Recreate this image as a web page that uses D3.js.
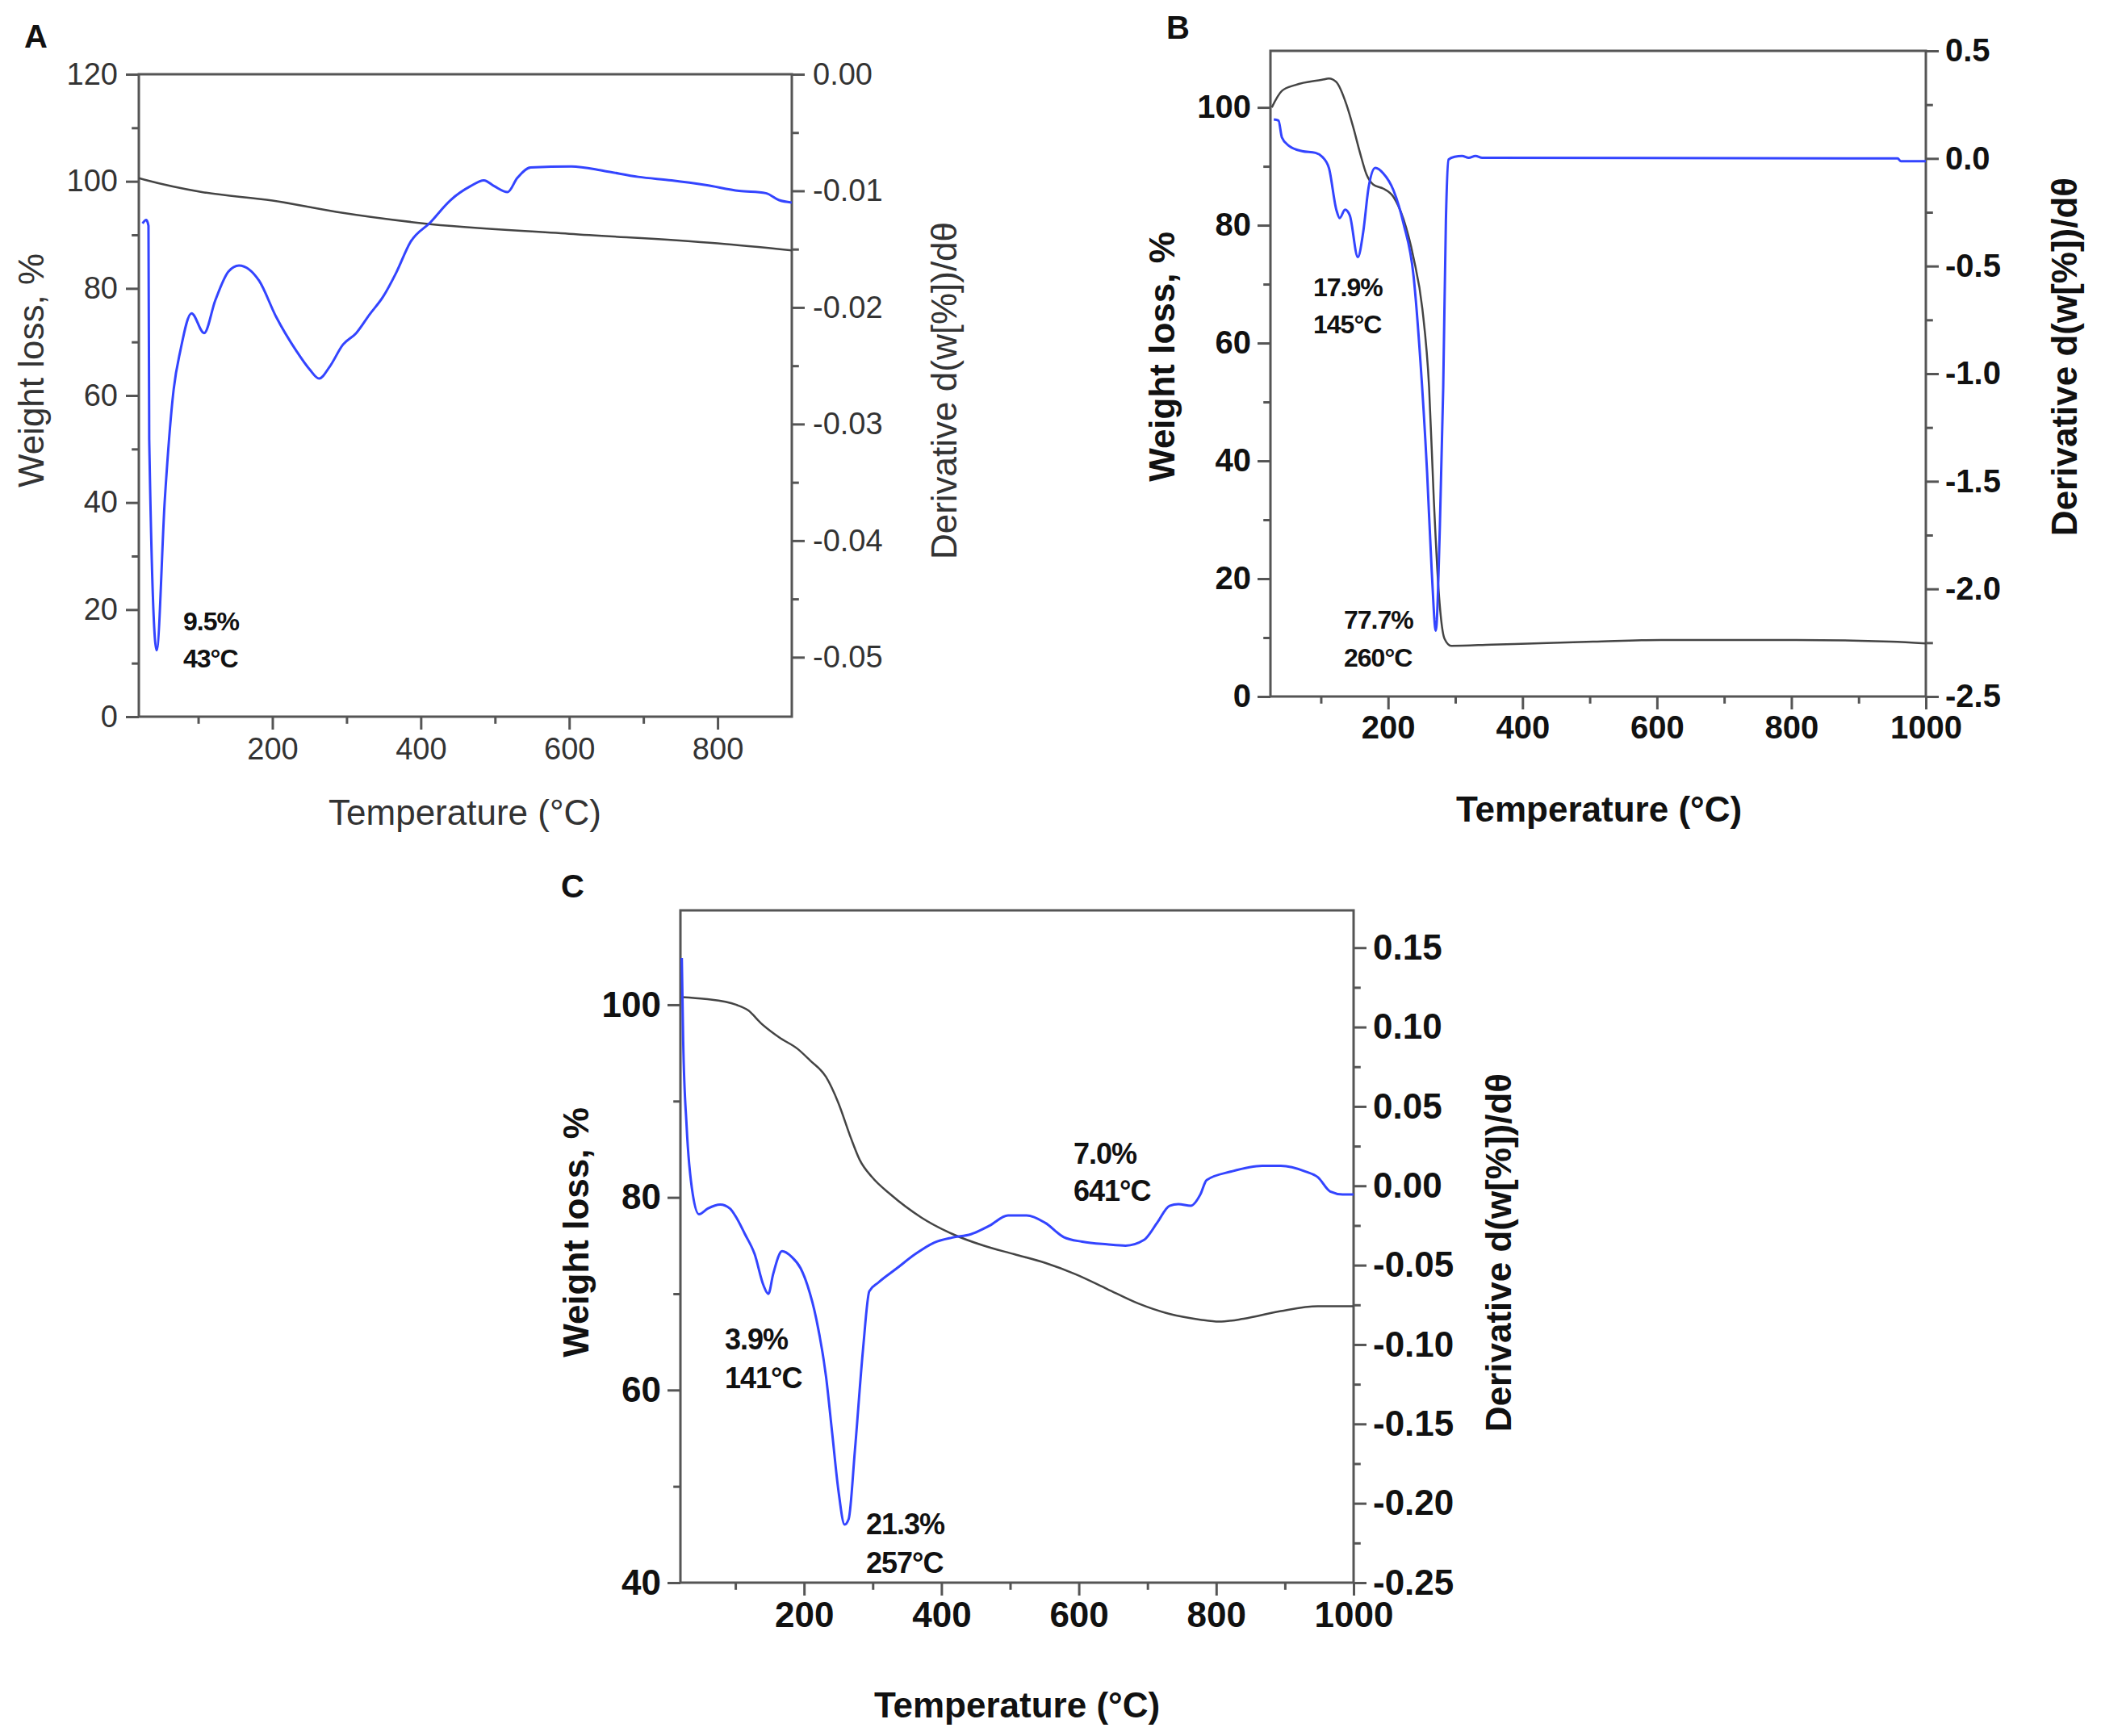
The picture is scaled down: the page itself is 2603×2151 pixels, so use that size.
<!DOCTYPE html>
<html>
<head>
<meta charset="utf-8">
<script src="https://d3js.org/d3.v7.min.js"></script>
<style>
  html, body { margin: 0; padding: 0; background: #fff; }
  svg { display: block; }
</style>
</head>
<body>
<div id="chart"></div>
<script>
// ---- Panel A data ----
const aWeightT = [20, 28, 105, 200, 286, 400, 600, 800, 900];
const aWeight = [100.6, 100.3, 98.0, 96.4, 94.3, 92.2, 90.2, 88.4, 87.1];
const aDerivT = [25, 30, 33, 34, 44, 55, 67, 76, 91, 108, 123, 141, 155, 182, 205, 232, 250, 263, 277, 295,
  313, 331, 349, 367, 386, 413, 440, 467, 485, 499, 517, 530, 548, 603, 648, 693, 738, 784, 829, 865, 883, 900];
const aDeriv = [-0.0128, -0.0125, -0.0130, -0.0313, -0.0494, -0.0365, -0.0270, -0.0237, -0.0205, -0.0222, -0.0194,
  -0.0169, -0.0164, -0.0177, -0.0208, -0.0237, -0.0253, -0.0261, -0.0251, -0.0232, -0.0222, -0.0206, -0.0191,
  -0.0170, -0.0144, -0.0127, -0.0108, -0.0096, -0.0091, -0.0096, -0.0101, -0.0089, -0.0080, -0.0079, -0.0083,
  -0.0088, -0.0091, -0.0095, -0.0100, -0.0102, -0.0108, -0.0110];

// ---- Panel B data ----
const bWeightT = [27, 42, 62, 102, 112, 123, 138, 148, 158, 168, 178, 193, 208, 223, 238, 251, 261, 268, 275,
  284, 294, 354, 505, 606, 807, 948, 1000];
const bWeight = [100.0, 102.8, 103.8, 104.7, 104.9, 104.3, 100.5, 96.7, 92.4, 88.6, 86.9, 86.2, 84.8, 81.0, 74.4,
  65.8, 52.5, 33.5, 18.3, 9.8, 8.6, 8.8, 9.3, 9.6, 9.6, 9.3, 9.0];
const bDerivT = [30, 37, 42, 52, 72, 92, 102, 112, 123, 128, 136, 143, 155, 163, 171, 181, 193, 208, 223, 238,
  248, 258, 265, 271, 277, 282, 286, 290, 299, 310, 320, 330, 340, 354, 958, 963, 1000];
const bDeriv = [0.181, 0.176, 0.098, 0.060, 0.034, 0.026, 0.008, -0.044, -0.238, -0.277, -0.238, -0.264, -0.458,
  -0.342, -0.135, -0.044, -0.070, -0.148, -0.303, -0.549, -0.938, -1.456, -1.922, -2.194, -1.715, -1.067, -0.290,
  -0.005, 0.008, 0.012, 0.003, 0.012, 0.003, 0.003, 0.0, -0.013, -0.013];

// ---- Panel C data ----
const cWeightT = [22, 56, 101, 119, 137, 164, 191, 209, 232, 250, 268, 281, 299, 326, 371, 416, 461, 506, 551,
  596, 641, 686, 732, 777, 804, 840, 894, 948, 1000];
const cWeight = [100.8, 100.6, 100.0, 99.4, 98.1, 96.6, 95.4, 94.2, 92.5, 89.8, 86.2, 83.9, 82.1, 80.3, 77.9,
  76.2, 75.0, 74.1, 73.2, 72.0, 70.5, 69.0, 67.9, 67.3, 67.1, 67.4, 68.2, 68.7, 68.7];
const cDerivT = [22, 24, 29, 38, 47, 60, 78, 92, 101, 114, 128, 141, 148, 155, 168, 182, 195, 205, 218, 232, 241,
  250, 259, 265, 274, 286, 295, 308, 335, 362, 389, 416, 443, 470, 497, 524, 551, 578, 605, 641, 668, 695, 714,
  732, 745, 763, 777, 786, 822, 867, 894, 930, 948, 966, 984, 1000];
const cDeriv = [0.1435, 0.0915, 0.0377, -0.0054, -0.0179, -0.0143, -0.0118, -0.0143, -0.0197, -0.0305, -0.0430,
  -0.0628, -0.0681, -0.0556, -0.0412, -0.0448, -0.0520, -0.0628, -0.0843, -0.1202, -0.1560, -0.1919, -0.2134,
  -0.2098, -0.1668, -0.1022, -0.0664, -0.0610, -0.0520, -0.0430, -0.0359, -0.0326, -0.0305, -0.0251, -0.0187,
  -0.0187, -0.0233, -0.0323, -0.0352, -0.0369, -0.0377, -0.0341, -0.0233, -0.0126, -0.0115, -0.0126, -0.0054,
  0.0036, 0.0090, 0.0126, 0.0126, 0.0090, 0.0054, -0.0036, -0.0054, -0.0054];

// ---- tick values ----
const aXTicks = [200, 400, 600, 800];
const aXMinor = [100, 300, 500, 700];
const aLeftTicks = [0, 20, 40, 60, 80, 100, 120];
const aLeftMinor = [10, 30, 50, 70, 90, 110];
const aRightTicks = [0, -0.01, -0.02, -0.03, -0.04, -0.05];
const aRightMinor = [-0.005, -0.015, -0.025, -0.035, -0.045];

const bXTicks = [200, 400, 600, 800, 1000];
const bXMinor = [100, 300, 500, 700, 900];
const bLeftTicks = [0, 20, 40, 60, 80, 100];
const bLeftMinor = [10, 30, 50, 70, 90];
const bRightTicks = [0.5, 0.0, -0.5, -1.0, -1.5, -2.0, -2.5];
const bRightMinor = [0.25, -0.25, -0.75, -1.25, -1.75, -2.25];

const cXTicks = [200, 400, 600, 800, 1000];
const cXMinor = [100, 300, 500, 700, 900];
const cLeftTicks = [40, 60, 80, 100];
const cLeftMinor = [50, 70, 90];
const cRightTicks = [0.15, 0.10, 0.05, 0.00, -0.05, -0.10, -0.15, -0.20, -0.25];
const cRightMinor = [0.125, 0.075, 0.025, -0.025, -0.075, -0.125, -0.175, -0.225];

const W = 2603, H = 2151;
const FONT = "'Liberation Sans', Arial, Helvetica, sans-serif";
const AXIS_COLOR = '#555';

// plain hyphen for negative tick labels, like the original figure
const hyphenFormat = spec => {
  const f = d3.format(spec);
  return d => f(d).replace('\u2212', '-');
};

const svg = d3.select('#chart').append('svg')
  .attr('width', W)
  .attr('height', H)
  .attr('viewBox', [0, 0, W, H])
  .style('font-family', FONT);

svg.append('rect').attr('width', W).attr('height', H).attr('fill', '#fff');

function drawPanel(cfg) {
  const x = d3.scaleLinear().domain(cfg.xDomain).range([cfg.left, cfg.right]);
  const yL = d3.scaleLinear().domain(cfg.leftDomain).range([cfg.bottom, cfg.top]);
  const yR = d3.scaleLinear().domain(cfg.rightDomain).range([cfg.bottom, cfg.top]);
  const weight = cfg.bold ? 'bold' : 'normal';
  const textColor = cfg.bold ? '#111' : '#333';

  const g = svg.append('g');

  // axes: bottom, left, right (outward ticks)
  const bottomAxis = d3.axisBottom(x).tickValues(cfg.xTicks).tickFormat(d3.format('d'))
    .tickSize(cfg.tick).tickPadding(cfg.pad);
  const leftAxis = d3.axisLeft(yL).tickValues(cfg.leftTicks).tickFormat(d3.format('d'))
    .tickSize(cfg.tick).tickPadding(cfg.pad);
  const rightAxis = d3.axisRight(yR).tickValues(cfg.rightTicks).tickFormat(cfg.rightFormat)
    .tickSize(cfg.tick).tickPadding(cfg.pad);

  g.append('g').attr('transform', `translate(0,${cfg.bottom})`).call(bottomAxis);
  g.append('g').attr('transform', `translate(${cfg.left},0)`).call(leftAxis);
  g.append('g').attr('transform', `translate(${cfg.right},0)`).call(rightAxis);

  // minor ticks
  g.append('g').attr('transform', `translate(0,${cfg.bottom})`)
    .call(d3.axisBottom(x).tickValues(cfg.xMinor).tickFormat('').tickSize(cfg.tick * 0.55));
  g.append('g').attr('transform', `translate(${cfg.left},0)`)
    .call(d3.axisLeft(yL).tickValues(cfg.leftMinor).tickFormat('').tickSize(cfg.tick * 0.55));
  g.append('g').attr('transform', `translate(${cfg.right},0)`)
    .call(d3.axisRight(yR).tickValues(cfg.rightMinor).tickFormat('').tickSize(cfg.tick * 0.55));

  g.selectAll('.domain').remove();
  g.selectAll('.tick line').attr('stroke', AXIS_COLOR).attr('stroke-width', 3);
  g.selectAll('.tick text')
    .attr('font-size', cfg.tickFont)
    .attr('font-family', FONT)
    .attr('font-weight', weight)
    .attr('fill', textColor);

  // frame box
  g.append('rect')
    .attr('x', cfg.left).attr('y', cfg.top)
    .attr('width', cfg.right - cfg.left).attr('height', cfg.bottom - cfg.top)
    .attr('fill', 'none').attr('stroke', AXIS_COLOR).attr('stroke-width', 3);

  // curves
  const clipId = 'clip-' + cfg.id;
  svg.append('clipPath').attr('id', clipId).append('rect')
    .attr('x', cfg.left).attr('y', cfg.top)
    .attr('width', cfg.right - cfg.left).attr('height', cfg.bottom - cfg.top);

  const weightLine = d3.line().x(d => x(d[0])).y(d => yL(d[1])).curve(d3.curveMonotoneX);
  const derivLine = d3.line().x(d => x(d[0])).y(d => yR(d[1])).curve(d3.curveMonotoneX);

  g.append('path')
    .datum(d3.zip(cfg.weightT, cfg.weight))
    .attr('clip-path', `url(#${clipId})`)
    .attr('d', weightLine)
    .attr('fill', 'none').attr('stroke', '#444').attr('stroke-width', 2.5);

  g.append('path')
    .datum(d3.zip(cfg.derivT, cfg.deriv))
    .attr('clip-path', `url(#${clipId})`)
    .attr('d', derivLine)
    .attr('fill', 'none').attr('stroke', '#3344ff').attr('stroke-width', 3);

  // panel letter
  g.append('text')
    .attr('x', cfg.letterX).attr('y', cfg.letterY)
    .attr('font-size', 40).attr('font-weight', 'bold').attr('fill', '#111')
    .attr('dominant-baseline', 'middle')
    .text(cfg.id);

  // axis titles
  g.append('text')
    .attr('transform', `translate(${cfg.yTitleX},${cfg.yTitleY}) rotate(-90)`)
    .attr('text-anchor', 'middle').attr('dominant-baseline', 'middle')
    .attr('font-size', cfg.titleFont).attr('font-weight', weight).attr('fill', textColor)
    .text('Weight loss, %');

  g.append('text')
    .attr('transform', `translate(${cfg.rTitleX},${cfg.rTitleY}) rotate(-90)`)
    .attr('text-anchor', 'middle').attr('dominant-baseline', 'middle')
    .attr('font-size', cfg.titleFont).attr('font-weight', weight).attr('fill', textColor)
    .text('Derivative d(w[%])/dθ');

  g.append('text')
    .attr('x', cfg.xTitleX).attr('y', cfg.xTitleY)
    .attr('text-anchor', 'middle').attr('dominant-baseline', 'middle')
    .attr('font-size', cfg.titleFont).attr('font-weight', weight).attr('fill', textColor)
    .text('Temperature (°C)');

  // annotations
  cfg.notes.forEach(n => {
    g.append('text')
      .attr('x', n[0]).attr('y', n[1])
      .attr('dominant-baseline', 'middle')
      .attr('font-size', cfg.noteFont).attr('font-weight', 'bold').attr('fill', '#111')
      .attr('letter-spacing', -1)
      .text(n[2]);
  });
}

drawPanel({
  id: 'A', left: 172, right: 981, top: 92, bottom: 888,
  xDomain: [20, 900], leftDomain: [0, 120], rightDomain: [-0.0551, 0],
  xTicks: aXTicks, xMinor: aXMinor, leftTicks: aLeftTicks, leftMinor: aLeftMinor,
  rightTicks: aRightTicks, rightMinor: aRightMinor, rightFormat: hyphenFormat('.2f'),
  weightT: aWeightT, weight: aWeight, derivT: aDerivT, deriv: aDeriv,
  tick: 16, pad: 10, tickFont: 38, titleFont: 44, noteFont: 32, bold: false,
  letterX: 30, letterY: 48,
  yTitleX: 42, yTitleY: 459, rTitleX: 1173, rTitleY: 484, xTitleX: 576, xTitleY: 1010,
  notes: [[227, 773, '9.5%'], [227, 819, '43°C']]
});

drawPanel({
  id: 'B', left: 1574, right: 2386, top: 63, bottom: 863,
  xDomain: [25, 1000], leftDomain: [0, 109.6], rightDomain: [-2.5, 0.5],
  xTicks: bXTicks, xMinor: bXMinor, leftTicks: bLeftTicks, leftMinor: bLeftMinor,
  rightTicks: bRightTicks, rightMinor: bRightMinor, rightFormat: hyphenFormat('.1f'),
  weightT: bWeightT, weight: bWeight, derivT: bDerivT, deriv: bDeriv,
  tick: 16, pad: 8, tickFont: 40, titleFont: 44, noteFont: 32, bold: true,
  letterX: 1445, letterY: 37,
  yTitleX: 1443, yTitleY: 442, rTitleX: 2561, rTitleY: 442, xTitleX: 1981, xTitleY: 1006,
  notes: [[1627, 359, '17.9%'], [1627, 405, '145°C'], [1665, 771, '77.7%'], [1665, 818, '260°C']]
});

drawPanel({
  id: 'C', left: 843, right: 1677, top: 1128, bottom: 1961,
  xDomain: [20, 1000], leftDomain: [40, 109.8], rightDomain: [-0.25, 0.1735],
  xTicks: cXTicks, xMinor: cXMinor, leftTicks: cLeftTicks, leftMinor: cLeftMinor,
  rightTicks: cRightTicks, rightMinor: cRightMinor, rightFormat: hyphenFormat('.2f'),
  weightT: cWeightT, weight: cWeight, derivT: cDerivT, deriv: cDeriv,
  tick: 16, pad: 8, tickFont: 44, titleFont: 44, noteFont: 36, bold: true,
  letterX: 695, letterY: 1101,
  yTitleX: 717, yTitleY: 1527, rTitleX: 1860, rTitleY: 1552, xTitleX: 1260, xTitleY: 2116,
  notes: [[898, 1662, '3.9%'], [898, 1710, '141°C'], [1073, 1891, '21.3%'], [1073, 1939, '257°C'],
    [1330, 1432, '7.0%'], [1330, 1478, '641°C']]
});
</script>
</body>
</html>
